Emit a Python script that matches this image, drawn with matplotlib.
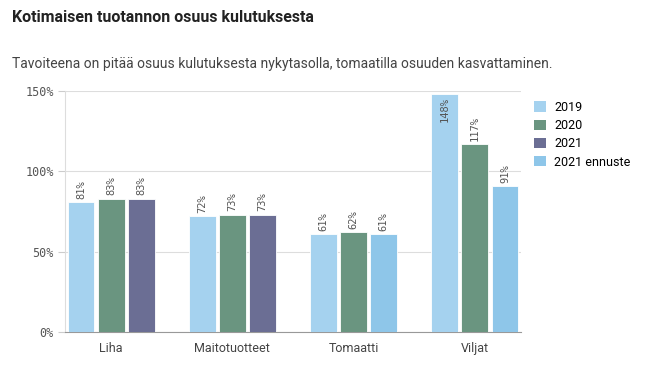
import numpy as np
import matplotlib
matplotlib.use("Agg")
import matplotlib.pyplot as plt
from matplotlib.patches import Patch

categories = ["Liha", "Maitotuotteet", "Tomaatti", "Viljat"]
series_names = ["2019", "2020", "2021", "2021 ennuste"]
v2019 = [81, 72, 61, 148]
v2020 = [83, 73, 62, 117]
v2021 = [83, 73, None, None]
v2021_ennuste = [None, None, 61, 91]
yticks = [0, 50, 100, 150]
ytick_labels = ["0%", "50%", "100%", "150%"]

colors = ["#a5d2ef", "#6a9580", "#6b6e94", "#8ec6e9"]
mono = "DejaVu Sans Mono"

fig = plt.figure(figsize=(6.58, 3.73), dpi=100)
ax = fig.add_axes([0.0988, 0.110, 0.693, 0.646])

x = np.arange(len(categories))
width = 0.222
step = 0.248


def bar_with_label(pos, vals, color):
    for xi, v in zip(pos, vals):
        if v is None:
            continue
        ax.bar(xi, v, width=width, color=color, edgecolor="white", linewidth=0.6, zorder=3)
        if v > 135:
            ax.text(xi, v - 2, f"{v}%", rotation=90, ha="center", va="top",
                    fontsize=7.5, family=mono, color="#555555", zorder=4)
        else:
            ax.text(xi, v + 2, f"{v}%", rotation=90, ha="center", va="bottom",
                    fontsize=7.5, family=mono, color="#555555", zorder=4)


bar_with_label(x - step, v2019, colors[0])
bar_with_label(x, v2020, colors[1])
bar_with_label(x + step, v2021, colors[2])
bar_with_label(x + step, v2021_ennuste, colors[3])

ax.set_xlim(-0.38, 3.38)
ax.set_ylim(0, 150)
ax.set_xticks(x)
ax.set_xticklabels(categories, fontsize=9, color="#444444", family="Roboto")
ax.set_yticks(yticks)
ax.set_yticklabels(ytick_labels, fontsize=8.5, color="#555555", family=mono)
ax.tick_params(axis="x", length=0, pad=7)
ax.tick_params(axis="y", length=5, color="#cccccc", pad=3)
ax.yaxis.grid(True, color="#dddddd", linewidth=0.8, zorder=0)
ax.set_axisbelow(True)
for s in ["top", "right"]:
    ax.spines[s].set_visible(False)
ax.spines["left"].set_color("#dddddd")
ax.spines["bottom"].set_color("#999999")

handles = [Patch(facecolor=c, edgecolor="none") for c in colors]
fig.legend(handles, series_names, loc="upper left", bbox_to_anchor=(0.795, 0.76),
           frameon=False, handlelength=0.9, handleheight=0.9,
           labelspacing=0.42, handletextpad=0.7, prop={"family": "Roboto", "size": 9})

fig.text(0.018, 0.952, "Kotimaisen tuotannon osuus kulutuksesta", fontsize=11.5,
         fontweight="bold", family="Roboto", color="#222222", va="center")
fig.text(0.018, 0.828, "Tavoiteena on pitää osuus kulutuksesta nykytasolla, tomaatilla osuuden kasvattaminen.",
         fontsize=10, family="Roboto", color="#444444", va="center")

fig.savefig("out.png", dpi=100)
